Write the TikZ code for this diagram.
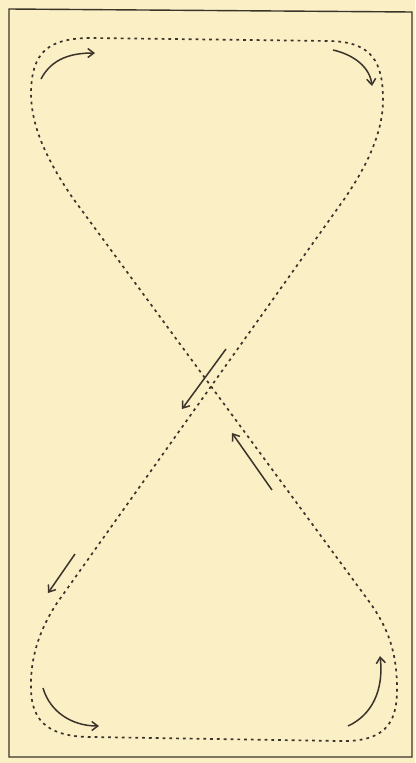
\documentclass[tikz,border=0pt]{standalone}
\usepackage{tikz}
\usetikzlibrary{arrows.meta}
\usepackage{xcolor}
\definecolor{paper}{HTML}{FBEFC6}
\definecolor{ink}{HTML}{3A342A}

\begin{document}
\begin{tikzpicture}[x=1pt,y=-1pt,
    loopline/.style={ink, line width=1.7pt, dash pattern=on 2.8pt off 4pt},
    flow/.style={ink, line width=1.5pt, -{Straight Barb[length=6pt,width=9pt]}}]
  % paper and frame
  \fill[paper] (0,0) rectangle (415,763);
  \useasboundingbox (0,0) rectangle (415,763);
  \draw[ink, line width=1.4pt] (9,9) -- (9,757) -- (412,757) -- (412,12) -- cycle;

  % figure of eight
  \draw[loopline]
    (72,197) .. controls (45,157) and (31,125) .. (31,92)
    .. controls (32,52) and (48,38) .. (92,38) -- (330,41)
    .. controls (372,42) and (383,62) .. (383,100)
    .. controls (383,135) and (364,170) .. (345,198)
    -- (57,603)
    .. controls (38,632) and (30,660) .. (31,690)
    .. controls (32,724) and (52,737) .. (92,737) -- (340,741)
    .. controls (384,742) and (397,724) .. (397,690)
    .. controls (397,655) and (390,630) .. (368,600) -- cycle;

  % direction arrows
  \draw[flow] (41,79) .. controls (52,58) and (72,53) .. (95,53);
  \draw[flow] (333,50) .. controls (355,55) and (370,68) .. (372,86);
  \draw[flow] (226,349) -- (182,409);
  \draw[flow] (272,490) -- (232,433);
  \draw[flow] (75,554) -- (48,593);
  \draw[flow] (43,688) .. controls (50,712) and (72,726) .. (99,726);
  \draw[flow] (348,726) .. controls (372,715) and (384,690) .. (380,656);
\end{tikzpicture}
\end{document}
